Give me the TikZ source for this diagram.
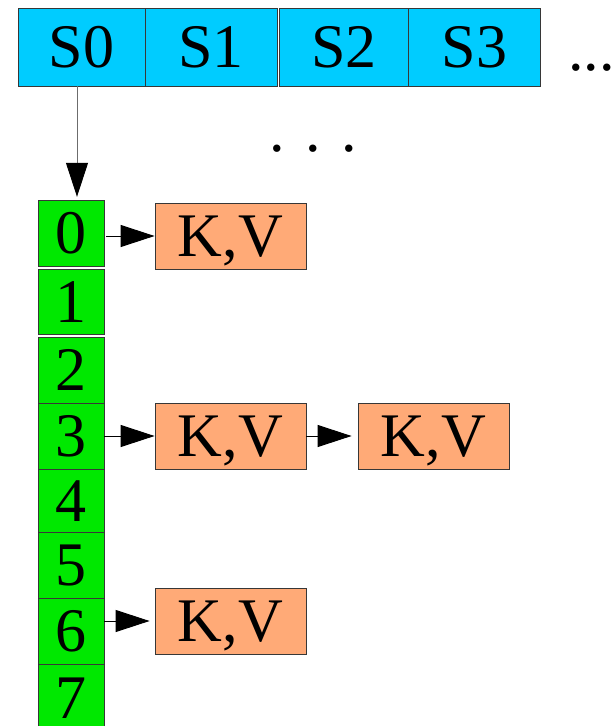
\documentclass[tikz,border=0pt]{standalone}
\usepackage{fontspec}
\setmainfont{Liberation Serif}
\usetikzlibrary{arrows.meta}
\definecolor{slotblue}{RGB}{0,204,255}
\definecolor{bucketgreen}{RGB}{0,232,0}
\definecolor{entryorange}{RGB}{255,170,119}
\definecolor{edgegray}{RGB}{55,55,55}
\begin{document}
\begin{tikzpicture}[x=1pt,y=-1pt,
  big/.style={font=\fontsize{62}{62}\selectfont},
  box/.style={big, draw=edgegray, line width=0.8pt, inner sep=0pt,
    text height=41pt, text depth=0pt, anchor=center},
  slot/.style={box, fill=slotblue, minimum height=78pt},
  bucket/.style={box, fill=bucketgreen, minimum width=66pt},
  entry/.style={box, fill=entryorange, minimum width=151pt, minimum height=66pt},
  link/.style={line width=1pt, -{Triangle[length=34pt,width=22pt,color=black]}},
  dots/.style={big, inner sep=0pt, anchor=base west}]
\useasboundingbox (0,0) rectangle (612,726);

% segment array
\node[slot, minimum width=127pt] (s0) at (81.5,47) {S0};
\node[slot, minimum width=132pt] (s1) at (211,47) {S1};
\node[slot, minimum width=129.7pt] (s2) at (343.8,47) {S2};
\node[slot, minimum width=132pt] (s3) at (474.7,47) {S3};
\node[dots] (more) at (568,70) {...};
\node[dots] (skip) at (269,151) {. . .};

% bucket column
\node[bucket, minimum height=66pt] (c0) at (71,233.2) {0};
\node[bucket, minimum height=65.5pt] (c1) at (71,301.8) {1};
\node[bucket, minimum height=65.5pt] (c2) at (71,370.2) {2};
\node[bucket, minimum height=66pt] (c3) at (71,436) {3};
\node[bucket, minimum height=63pt] (c4) at (71,500.5) {4};
\node[bucket, minimum height=66pt] (c5) at (71,565) {5};
\node[bucket, minimum height=66pt] (c6) at (71,631) {6};
\node[bucket, minimum height=67pt] (c7) at (71,697.5) {7};

% key/value entries
\node[entry] (kv0) at (230.5,236) {K,V};
\node[entry] (kv3) at (230.5,436) {K,V};
\node[entry] (kv3b) at (433.5,436) {K,V};
\node[entry] (kv6) at (230.5,621) {K,V};

% pointers
\draw[link, draw=gray!85!black, shorten >=3pt]
  ([xshift=-4.5pt]s0.south) -- ([xshift=-4.5pt]s0.south |- c0.north);
\draw[link, shorten <=2pt] (c0.east |- kv0.west) -- (kv0.west);
\draw[link] (c3.east |- kv3.west) -- (kv3.west);
\draw[link, shorten >=5pt] (c6.east |- kv6.west) -- (kv6.west);
\draw[link, shorten >=6pt] (kv3.east) -- (kv3b.west);
\end{tikzpicture}
\end{document}
